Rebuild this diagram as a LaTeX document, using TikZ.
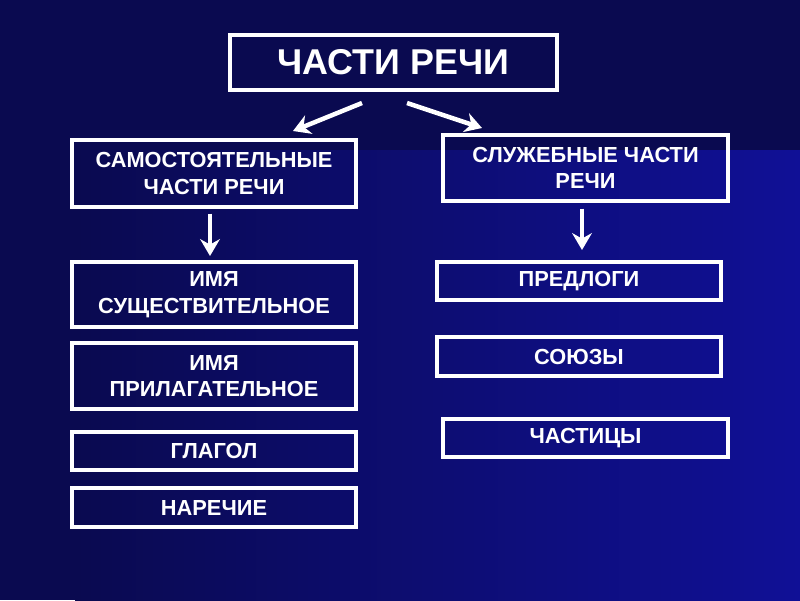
\documentclass[tikz,border=0pt]{standalone}
\usepackage{fontspec}
\setmainfont{Liberation Sans}
\usetikzlibrary{positioning,arrows.meta}
\definecolor{navy}{RGB}{10,10,80}
\definecolor{midblue}{RGB}{16,16,150}
\begin{document}
\begin{tikzpicture}[x=0.025cm,y=-0.025cm,
  box/.style={draw=white,line width=2.2pt,text=white,font=\bfseries\fontsize{15.5}{19}\selectfont,align=center,inner sep=0pt},
  arr/.style={white,line width=3.2pt,-{Stealth[length=12pt,width=14pt]}}]
\fill[navy] (0,0) rectangle (800,600);
\shade[left color=navy,right color=midblue] (75,150) rectangle (800,600);
% headline
\node[box,minimum width=327*0.025cm,minimum height=55*0.025cm,font=\bfseries\fontsize{25.5}{30}\selectfont] (parts) at (393.5,62.5) {ЧАСТИ РЕЧИ};
% two groups
\node[box,minimum width=284*0.025cm,minimum height=67*0.025cm] (indep) at (214,173.5) {САМОСТОЯТЕЛЬНЫЕ\\ЧАСТИ РЕЧИ};
\node[box,minimum width=285*0.025cm,minimum height=66*0.025cm] (func) at (585.5,168) {СЛУЖЕБНЫЕ ЧАСТИ\\РЕЧИ};
% left column
\node[box,minimum width=284*0.025cm,minimum height=65*0.025cm] (noun) at (214,294.5) {ИМЯ\\СУЩЕСТВИТЕЛЬНОЕ};
\node[box,minimum width=284*0.025cm,minimum height=66*0.025cm] (adj) at (214,376) {ИМЯ\\ПРИЛАГАТЕЛЬНОЕ};
\node[box,minimum width=284*0.025cm,minimum height=38*0.025cm] (verb) at (214,451) {ГЛАГОЛ};
\node[box,minimum width=284*0.025cm,minimum height=39*0.025cm] (adv) at (214,507.5) {НАРЕЧИЕ};
% right column
\node[box,minimum width=284*0.025cm,minimum height=38*0.025cm] (prep) at (579,281) {ПРЕДЛОГИ};
\node[box,minimum width=284*0.025cm,minimum height=39*0.025cm] (conj) at (579,356.5) {СОЮЗЫ};
\node[box,minimum width=285*0.025cm,minimum height=38*0.025cm] (part) at (585.5,438) {ЧАСТИЦЫ};
% arrows
\coordinate (pl) at (362,103);
\coordinate (pr) at (407,103);
\coordinate (tl) at (293,131);
\coordinate (tr) at (482,128);
\coordinate (il) at (210,256);
\coordinate (fl) at (582,250);
\draw[arr] (pl) -- (tl);
\draw[arr] (pr) -- (tr);
\draw[arr] (indep.south -| il) ++(0,5) -- (il);
\draw[arr] (func.south -| fl) ++(0,6) -- (fl);
\end{tikzpicture}
\end{document}
